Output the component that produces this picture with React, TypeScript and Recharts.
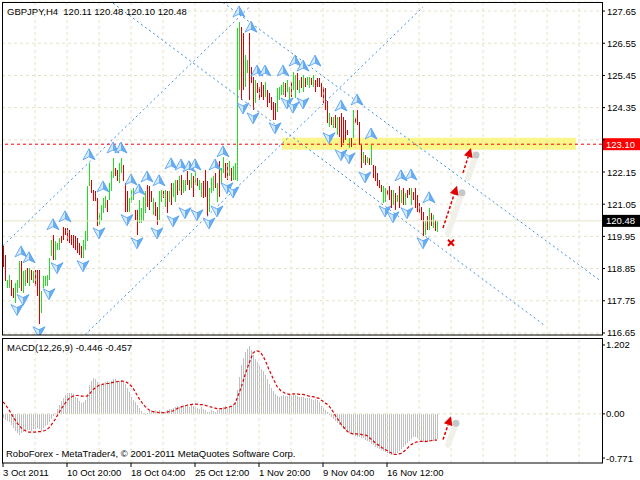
import React from 'react';
import {
    ComposedChart, Bar, Line, XAxis, YAxis, CartesianGrid,
    ReferenceLine, ReferenceArea, ReferenceDot,
} from 'recharts';

const FONT = "'Liberation Sans', Arial, sans-serif";
const GREEN = '#22dd22';
const RED = '#e00000';
const BLUE = '#3a8ee6';
const GRID = '#e6e2c6';
const SLOTS = 300;

// GBPJPY H4 bars, one per 4 hours
const highs = [
    119.61, 119.30, 118.47, 118.64, 118.47, 118.19, 118.36, 118.47, 119.10, 119.10,
    118.76, 118.81, 118.87, 118.87, 118.81, 118.76, 118.81, 118.81, 118.81, 118.07,
    118.59, 118.59, 118.64, 119.21, 119.84, 120.01, 119.78, 119.72, 119.89, 119.95,
    120.27, 120.24, 120.24, 120.18, 120.01, 120.01, 119.95, 119.89, 119.72, 119.61,
    119.84, 120.12, 121.66, 122.45, 121.88, 121.54, 121.49, 121.26, 120.75, 121.03,
    121.26, 121.32, 121.20, 121.77, 122.17, 122.62, 122.28, 122.22, 122.45, 122.62,
    122.40, 121.77, 121.49, 121.26, 121.54, 121.60, 120.86, 120.86, 121.20, 120.91,
    121.31, 121.49, 121.71, 121.66, 121.49, 121.26, 121.14, 120.97, 121.49, 121.54,
    121.49, 121.54, 121.49, 121.49, 121.77, 121.77, 121.88, 121.88, 122.00, 122.05,
    121.88, 121.88, 122.17, 121.88, 122.11, 122.00, 122.17, 121.94, 121.88, 121.77,
    121.83, 122.22, 121.83, 121.60, 121.94, 122.00, 122.11, 121.77, 122.51, 122.28,
    122.68, 122.45, 122.45, 122.51, 122.28, 122.34, 122.45, 127.07, 127.27, 127.10,
    126.90, 126.15, 125.98, 126.90, 125.74, 125.40, 125.30, 125.19, 125.06, 125.23,
    125.12, 125.23, 124.95, 124.85, 124.72, 124.54, 124.51, 125.02, 125.06, 125.12,
    125.23, 125.19, 125.30, 125.06, 125.23, 125.57, 125.47, 125.53, 125.30, 125.40,
    125.47, 125.36, 125.40, 125.40, 125.36, 125.47, 125.30, 125.36, 125.36, 125.19,
    125.06, 125.01, 124.56, 124.16, 124.04, 124.04, 124.10, 124.04, 124.04, 124.16,
    124.04, 123.93, 123.59, 123.30, 123.30, 124.27, 123.99, 124.27, 123.87, 123.08,
    122.85, 122.74, 122.68, 122.62, 123.08, 122.39, 122.34, 122.11, 121.88, 121.71,
    121.66, 121.60, 121.54, 121.66, 121.54, 121.54, 121.43, 121.37, 121.66, 121.54,
    121.60, 121.43, 121.54, 121.60, 121.60, 121.48, 121.60, 121.37, 121.09, 120.97,
    120.80, 120.46, 120.63, 120.92, 120.75, 120.69, 120.52, 120.48,
];

const lows = [
    118.89, 118.41, 118.19, 118.19, 117.90, 117.85, 117.68, 118.02, 118.19, 118.07,
    118.02, 118.24, 118.36, 118.24, 118.47, 118.36, 118.24, 117.90, 116.94, 117.33,
    118.19, 118.24, 118.24, 118.47, 119.27, 119.15, 119.15, 119.50, 119.50, 119.72,
    119.84, 120.01, 119.78, 119.72, 119.67, 119.55, 119.50, 119.38, 119.32, 119.21,
    119.21, 119.50, 119.78, 121.66, 121.43, 121.15, 121.15, 120.29, 120.35, 120.46,
    120.75, 120.92, 120.80, 121.20, 121.49, 121.94, 122.00, 121.83, 121.77, 122.11,
    121.83, 120.80, 120.80, 120.80, 121.09, 121.20, 120.52, 120.01, 120.40, 120.40,
    120.46, 120.75, 120.97, 120.86, 121.14, 120.69, 120.63, 120.35, 120.52, 121.14,
    121.26, 120.97, 120.75, 121.14, 121.03, 121.31, 121.14, 121.37, 121.49, 121.37,
    121.43, 121.49, 121.71, 121.54, 121.60, 121.31, 121.71, 121.66, 121.54, 121.31,
    121.26, 121.31, 120.63, 120.80, 121.43, 121.49, 121.60, 121.14, 121.31, 121.77,
    122.11, 121.94, 121.88, 122.00, 121.83, 121.88, 121.88, 121.85, 124.95, 124.61,
    124.95, 125.06, 125.53, 124.61, 125.19, 124.27, 124.51, 124.85, 124.61, 124.72,
    124.61, 124.72, 124.37, 124.51, 124.27, 123.93, 123.93, 124.20, 124.61, 124.78,
    124.78, 124.72, 124.89, 124.61, 124.72, 124.95, 124.68, 124.95, 124.85, 125.02,
    124.89, 125.06, 125.12, 125.02, 125.12, 125.06, 124.89, 125.06, 125.06, 124.72,
    124.51, 124.27, 123.82, 123.70, 123.76, 123.65, 123.65, 123.42, 123.36, 123.02,
    123.13, 123.25, 123.42, 122.96, 123.02, 123.30, 123.82, 123.76, 123.08, 122.28,
    122.45, 122.39, 122.45, 122.39, 122.39, 121.94, 121.83, 121.66, 121.60, 121.48,
    121.09, 121.14, 121.37, 121.20, 120.92, 121.03, 120.86, 121.14, 120.92, 121.09,
    121.03, 121.03, 121.26, 121.37, 121.03, 121.20, 120.92, 120.80, 120.75, 120.52,
    119.95, 120.00, 120.18, 120.18, 120.29, 120.23, 120.12, 120.10,
];

// 1 = bar closed up (green), 0 = closed down (red)
const bull = [
    0, 0, 1, 1, 0, 0, 1, 1, 1, 0,
    1, 1, 0, 1, 0, 1, 0, 0, 0, 1,
    1, 1, 1, 1, 1, 0, 1, 1, 1, 0,
    0, 0, 0, 0, 0, 0, 0, 0, 0, 0,
    1, 1, 1, 1, 0, 0, 0, 0, 1, 1,
    1, 1, 0, 1, 1, 1, 0, 0, 1, 1,
    0, 0, 0, 1, 1, 1, 0, 0, 1, 1,
    1, 1, 0, 0, 0, 1, 0, 0, 1, 1,
    0, 1, 0, 1, 0, 1, 1, 0, 1, 0,
    1, 1, 0, 0, 1, 0, 1, 0, 1, 1,
    0, 0, 0, 1, 1, 1, 0, 1, 0, 1,
    1, 0, 0, 1, 0, 1, 1, 1, 1, 0,
    0, 1, 1, 0, 0, 0, 1, 0, 0, 0,
    0, 1, 0, 0, 0, 0, 0, 1, 1, 1,
    1, 0, 1, 1, 0, 1, 1, 0, 1, 0,
    1, 0, 1, 1, 0, 1, 0, 0, 0, 0,
    0, 0, 0, 1, 0, 1, 0, 1, 0, 0,
    0, 0, 0, 1, 0, 1, 0, 0, 0, 0,
    1, 0, 1, 0, 1, 0, 0, 0, 0, 0,
    1, 1, 0, 0, 0, 1, 0, 1, 0, 1,
    0, 1, 0, 0, 1, 0, 0, 0, 0, 0,
    0, 1, 0, 1, 0, 1, 0, 1,
];

const macdHist = [
    -0.08, -0.10, -0.12, -0.14, -0.19, -0.24, -0.30, -0.34, -0.37, -0.33,
    -0.31, -0.30, -0.29, -0.28, -0.30, -0.27, -0.26, -0.25, -0.27, -0.30,
    -0.25, -0.22, -0.20, -0.15, -0.09, -0.04, 0.02, 0.08, 0.15, 0.22,
    0.28, 0.33, 0.36, 0.37, 0.36, 0.35, 0.30, 0.27, 0.22, 0.19,
    0.20, 0.25, 0.35, 0.50, 0.58, 0.62, 0.60, 0.56, 0.52, 0.50,
    0.52, 0.55, 0.57, 0.56, 0.58, 0.60, 0.61, 0.58, 0.57, 0.59,
    0.56, 0.52, 0.45, 0.38, 0.30, 0.25, 0.20, 0.15, 0.10, 0.05,
    0.02, -0.01, 0.02, 0.05, 0.07, 0.05, 0.06, 0.04, 0.06, 0.05,
    0.03, 0.04, 0.06, 0.08, 0.09, 0.10, 0.12, 0.13, 0.12, 0.14,
    0.15, 0.13, 0.14, 0.12, 0.15, 0.14, 0.12, 0.10, 0.09, 0.12,
    0.08, 0.06, 0.03, 0.04, 0.07, 0.05, 0.03, 0.06, 0.08, 0.10,
    0.12, 0.13, 0.11, 0.12, 0.14, 0.15, 0.20, 0.42, 0.65, 0.85,
    0.98, 1.08, 1.14, 1.18, 1.12, 1.02, 0.95, 0.90, 0.84, 0.79,
    0.74, 0.68, 0.60, 0.52, 0.45, 0.40, 0.35, 0.32, 0.30, 0.31,
    0.33, 0.32, 0.31, 0.33, 0.32, 0.34, 0.33, 0.31, 0.30, 0.29,
    0.30, 0.28, 0.27, 0.28, 0.26, 0.25, 0.26, 0.24, 0.20, 0.14,
    0.10, 0.06, 0.03, -0.01, -0.05, -0.09, -0.13, -0.16, -0.20, -0.23,
    -0.26, -0.29, -0.31, -0.33, -0.35, -0.37, -0.38, -0.40, -0.41, -0.42,
    -0.43, -0.46, -0.48, -0.50, -0.52, -0.55, -0.57, -0.59, -0.61, -0.63,
    -0.65, -0.67, -0.69, -0.70, -0.71, -0.71, -0.70, -0.68, -0.65, -0.62,
    -0.58, -0.55, -0.51, -0.47, -0.44, -0.41, -0.40, -0.42, -0.45, -0.48,
    -0.50, -0.51, -0.50, -0.49, -0.48, -0.47, -0.46, -0.446,
];

const macdSignal = [
    0.21, 0.17, 0.12, 0.07, 0.01, -0.05, -0.10, -0.16, -0.20, -0.24,
    -0.27, -0.29, -0.31, -0.32, -0.32, -0.32, -0.32, -0.31, -0.31, -0.31,
    -0.30, -0.29, -0.27, -0.24, -0.20, -0.15, -0.10, -0.04, 0.02, 0.08,
    0.13, 0.18, 0.23, 0.27, 0.29, 0.31, 0.32, 0.32, 0.32, 0.31,
    0.31, 0.31, 0.31, 0.34, 0.38, 0.42, 0.45, 0.47, 0.50, 0.51,
    0.52, 0.52, 0.53, 0.53, 0.54, 0.55, 0.56, 0.56, 0.57, 0.57,
    0.57, 0.56, 0.55, 0.52, 0.49, 0.45, 0.39, 0.33, 0.27, 0.22,
    0.17, 0.13, 0.10, 0.07, 0.05, 0.04, 0.03, 0.03, 0.02, 0.02,
    0.02, 0.02, 0.03, 0.04, 0.05, 0.05, 0.07, 0.09, 0.11, 0.12,
    0.13, 0.14, 0.15, 0.16, 0.16, 0.17, 0.17, 0.17, 0.16, 0.16,
    0.16, 0.15, 0.14, 0.13, 0.12, 0.11, 0.10, 0.09, 0.09, 0.09,
    0.09, 0.10, 0.11, 0.12, 0.13, 0.15, 0.18, 0.27, 0.36, 0.45,
    0.56, 0.68, 0.78, 0.88, 0.97, 1.06, 1.09, 1.10, 1.09, 1.06,
    1.01, 0.94, 0.86, 0.77, 0.70, 0.62, 0.55, 0.48, 0.44, 0.40,
    0.38, 0.36, 0.35, 0.34, 0.34, 0.35, 0.35, 0.35, 0.34, 0.34,
    0.34, 0.33, 0.32, 0.31, 0.30, 0.30, 0.29, 0.28, 0.27, 0.24,
    0.22, 0.19, 0.17, 0.14, 0.09, 0.04, -0.02, -0.07, -0.12, -0.18,
    -0.22, -0.26, -0.30, -0.33, -0.34, -0.35, -0.35, -0.35, -0.36, -0.36,
    -0.37, -0.37, -0.38, -0.41, -0.44, -0.47, -0.50, -0.53, -0.55, -0.58,
    -0.60, -0.62, -0.64, -0.66, -0.68, -0.70, -0.71, -0.71, -0.70, -0.69,
    -0.67, -0.64, -0.61, -0.57, -0.54, -0.52, -0.50, -0.49, -0.48, -0.48,
    -0.48, -0.48, -0.48, -0.47, -0.47, -0.46, -0.46, -0.457,
];

// fractal arrows: [bar index, price where the arrow sits]
const fractalUp = [
    [9, 119.42], [13, 119.22], [25, 120.35], [31, 120.62], [43, 122.74], [50, 121.64],
    [55, 122.97], [59, 122.97], [64, 121.88], [68, 121.54], [72, 121.98], [78, 121.85],
    [84, 122.43], [89, 122.39], [93, 122.33], [96, 122.39], [106, 122.39], [110, 122.84],
    [118, 127.62], [124, 127.10], [127, 125.60], [131, 125.60], [140, 125.60], [146, 125.94],
    [150, 125.77], [156, 125.94], [169, 124.41], [177, 124.61], [184, 123.45], [199, 122.02],
    [204, 122.05], [213, 121.27],
];
const fractalDown = [
    [7, 117.45], [10, 117.79], [18, 116.69], [23, 117.99], [27, 118.88], [40, 118.95],
    [48, 120.07], [62, 120.52], [67, 119.73], [77, 120.07], [85, 120.48], [91, 120.76],
    [97, 120.69], [103, 120.41], [107, 120.82], [112, 121.61], [115, 121.47], [120, 124.34],
    [125, 124.00], [136, 123.66], [142, 124.51], [145, 124.37], [150, 124.51], [163, 123.32],
    [169, 122.74], [173, 122.63], [181, 121.98], [191, 120.82], [195, 120.62], [202, 120.76],
    [210, 119.73],
];

// channel lines as [[index, price], [index, price]]
const channels = [
    [[0, 119.63], [123, 127.77]],
    [[41, 116.59], [210, 127.79]],
    [[110, 127.945], [299, 118.42]],
    [[55, 127.92], [271, 116.90]],
];
const forecastArrows = [
    [[220, 120.24], [227, 121.68]],
    [[230, 122.12], [234, 122.97]],
];
const macdArrow = [[220, -0.45], [224, -0.04]];
const crossMark = [224, 119.73];

const priceTicks = [127.65, 126.55, 125.45, 124.35, 123.25, 122.15, 121.05, 119.95, 118.85, 117.75, 116.65];
const macdTicks = [1.202, 0, -0.771];
const macdTickLabels = ['1.202', '0.00', '-0.771'];
const dateTicks = [0, 32, 64, 96, 128, 160, 192];
const dateLabels = ['3 Oct 2011', '10 Oct 20:00', '18 Oct 04:00', '25 Oct 12:00', '1 Nov 20:00', '9 Nov 04:00', '16 Nov 12:00'];
const gridIdx = [16, 32, 48, 64, 80, 96, 112, 128, 144, 160, 176, 192, 208, 224, 240, 256, 272, 288];

const upMap = new Map(fractalUp.map(([i, p]) => [i, p]));
const downMap = new Map(fractalDown.map(([i, p]) => [i, p]));

const rows = Array.from({ length: SLOTS }, (_, i) => ({
    i,
    rng: i < highs.length ? [lows[i], highs[i]] : null,
    bull: bull[i] === 1,
    fu: upMap.has(i) ? upMap.get(i) : null,
    fd: downMap.has(i) ? downMap.get(i) : null,
    hist: i < macdHist.length ? macdHist[i] : null,
    sig: i < macdSignal.length ? macdSignal[i] : null,
}));

const crispRect = (p: any, fill: string) => {
    const x = Math.round(p.x + 0.01);
    const top = Math.round(Math.min(p.y, p.y + p.height));
    const bot = Math.round(Math.max(p.y, p.y + p.height));
    return <rect x={x} y={top} width={1} height={Math.max(1, bot - top)} fill={fill} />;
};

const PriceBar = (p: any) => {
    if (!p.payload || !p.payload.rng) return null;
    return crispRect(p, p.payload.bull ? GREEN : RED);
};

const HistBar = (p: any) => {
    if (!p.payload || p.payload.hist == null) return null;
    return crispRect(p, '#c0c0c0');
};

const UpArrow = (p: any) => {
    if (p.value == null || p.cx == null || p.cy == null) return <g key={p.index} />;
    return (
        <g key={p.index} transform={`translate(${p.cx},${p.cy})`}>
            <path d="M0,-6 L-6,5 L0,2 Z" fill="#d4e9fd" />
            <path d="M0,-6 L6,5 L0,2 Z" fill="#6aaef2" />
            <path d="M0,-6 L-6,5 L0,2 L6,5 Z" fill="none" stroke="#4b9cef" strokeWidth={0.8} />
        </g>
    );
};

const DownArrow = (p: any) => {
    if (p.value == null || p.cx == null || p.cy == null) return <g key={p.index} />;
    return (
        <g key={p.index} transform={`translate(${p.cx},${p.cy})`}>
            <path d="M0,6 L-6,-5 L0,-2 Z" fill="#d4e9fd" />
            <path d="M0,6 L6,-5 L0,-2 Z" fill="#6aaef2" />
            <path d="M0,6 L-6,-5 L0,-2 L6,-5 Z" fill="none" stroke="#4b9cef" strokeWidth={0.8} />
        </g>
    );
};

const ArrowShape = (p: any) => {
    const { x1, y1, x2, y2 } = p;
    const ang = Math.atan2(y2 - y1, x2 - x1);
    const bx = x2 - 9 * Math.cos(ang);
    const by = y2 - 9 * Math.sin(ang);
    const nx = -Math.sin(ang) * 4.5;
    const ny = Math.cos(ang) * 4.5;
    return (
        <g>
            <line x1={x1 + 5} y1={y1 + 5} x2={x2 + 5} y2={y2 + 7} stroke="#f1f1ea" strokeWidth={6} strokeLinecap="round" />
            <circle cx={x2 + 5} cy={y2 + 7} r={3.5} fill="#b8bebe" opacity={0.8} />
            <line x1={x1} y1={y1} x2={bx} y2={by} stroke={RED} strokeWidth={1.5} strokeDasharray="3 2" />
            <polygon points={`${x2},${y2} ${bx + nx},${by + ny} ${bx - nx},${by - ny}`} fill={RED} />
        </g>
    );
};

const Cross = (p: any) => (
    <g stroke={RED} strokeWidth={2}>
        <line x1={p.cx - 3} y1={p.cy - 3} x2={p.cx + 3} y2={p.cy + 3} />
        <line x1={p.cx - 3} y1={p.cy + 3} x2={p.cx + 3} y2={p.cy - 3} />
    </g>
);

const PriceTick = ({ x, y, payload }: any) => (
    <g>
        <line x1={x} y1={y} x2={x + 3} y2={y} stroke="#000" />
        {payload.value !== 123.25 && (
            <text x={x + 5} y={y + 3.5} fontSize={9.5} fontFamily={FONT} fill="#000">
                {payload.value.toFixed(2)}
            </text>
        )}
    </g>
);

const MacdTick = ({ x, y, payload }: any) => (
    <g>
        <line x1={x} y1={y} x2={x + 3} y2={y} stroke="#000" />
        <text x={x + 4} y={y + 3.5} fontSize={9.5} fontFamily={FONT} fill="#000">
            {macdTickLabels[macdTicks.indexOf(payload.value)]}
        </text>
    </g>
);

const DateTick = ({ x, y, payload }: any) => (
    <g>
        <line x1={x} y1={y} x2={x} y2={y + 4} stroke="#000" />
        <text x={x} y={y + 13} fontSize={9.5} fontFamily={FONT} fill="#000">
            {dateLabels[dateTicks.indexOf(payload.value)]}
        </text>
    </g>
);

const tag = (text: string, bg: string) => (props: any) => {
    const vb = props.viewBox || {};
    const x = vb.x + vb.width;
    const y = vb.y;
    return (
        <g>
            <rect x={x} y={y - 6} width={38} height={12} fill={bg} />
            <text x={x + 4} y={y + 3.5} fontSize={9.5} fontFamily={FONT} fill="#fff">{text}</text>
        </g>
    );
};

export default function App() {
    return (
        <div style={{ position: 'absolute', left: 0, top: 0, width: 640, height: 480, background: '#fff', overflow: 'hidden' }}>
            <div style={{ position: 'absolute', left: 0, top: 0 }}>
                <ComposedChart width={640} height={345} data={rows} margin={{ top: 2, right: 0, left: 2, bottom: 10 }}>
                    <CartesianGrid vertical={false} stroke={GRID} strokeDasharray="3 3" />
                    <XAxis dataKey="i" hide />
                    <YAxis
                        orientation="right" width={38} type="number" domain={[116.58, 127.96]}
                        allowDataOverflow ticks={priceTicks} interval={0} tick={PriceTick}
                        tickLine={false} axisLine={false} tickSize={0} tickMargin={0}
                    />
                    {gridIdx.map(k => (
                        <ReferenceLine key={`g${k}`} x={k} stroke={GRID} strokeDasharray="3 3" />
                    ))}
                    <ReferenceArea x1={140} x2={286} y1={122.91} y2={123.32} fill="#faf68a" fillOpacity={1} stroke="none" />
                    <ReferenceLine y={120.48} stroke="#e8e5cc" label={{ content: tag('120.48', '#000') }} />
                    {channels.map((s, k) => (
                        <ReferenceLine
                            key={`c${k}`}
                            segment={[{ x: s[0][0], y: s[0][1] }, { x: s[1][0], y: s[1][1] }]}
                            stroke={BLUE} strokeDasharray="2 3" ifOverflow="hidden"
                        />
                    ))}
                    <Bar dataKey="rng" barSize={1} shape={PriceBar} isAnimationActive={false} />
                    <ReferenceLine y={123.10} stroke="#ff0000" strokeDasharray="3 3" label={{ content: tag('123.10', '#ff0000') }} />
                    <Line dataKey="fu" stroke="none" dot={UpArrow} activeDot={false} isAnimationActive={false} />
                    <Line dataKey="fd" stroke="none" dot={DownArrow} activeDot={false} isAnimationActive={false} />
                    {forecastArrows.map((s, k) => (
                        <ReferenceLine
                            key={`a${k}`}
                            segment={[{ x: s[0][0], y: s[0][1] }, { x: s[1][0], y: s[1][1] }]}
                            shape={ArrowShape}
                        />
                    ))}
                    <ReferenceDot x={crossMark[0]} y={crossMark[1]} shape={Cross} />
                </ComposedChart>
            </div>
            <div style={{ position: 'absolute', left: 0, top: 338 }}>
                <ComposedChart width={640} height={142} data={rows} margin={{ top: 0, right: 0, left: 2, bottom: 0 }}>
                    <XAxis
                        dataKey="i" ticks={dateTicks} interval={0} tick={DateTick}
                        tickLine={false} axisLine={false} tickSize={0} tickMargin={0} height={17}
                    />
                    <YAxis
                        orientation="right" width={38} type="number" domain={[-0.858, 1.324]}
                        allowDataOverflow ticks={macdTicks} interval={0} tick={MacdTick}
                        tickLine={false} axisLine={false} tickSize={0} tickMargin={0}
                    />
                    {gridIdx.map(k => (
                        <ReferenceLine key={`mg${k}`} x={k} stroke={GRID} strokeDasharray="3 3" />
                    ))}
                    <ReferenceLine y={0} stroke={GRID} strokeDasharray="3 3" />
                    <Bar dataKey="hist" barSize={1} shape={HistBar} isAnimationActive={false} />
                    <Line dataKey="sig" stroke={RED} strokeWidth={1.2} strokeDasharray="3 2" dot={false} activeDot={false} isAnimationActive={false} />
                    <ReferenceLine
                        segment={[{ x: macdArrow[0][0], y: macdArrow[0][1] }, { x: macdArrow[1][0], y: macdArrow[1][1] }]}
                        shape={ArrowShape}
                    />
                </ComposedChart>
            </div>
            <svg width={640} height={480} style={{ position: 'absolute', left: 0, top: 0, pointerEvents: 'none' }}>
                <rect x={2.5} y={2.5} width={600} height={332.5} fill="none" stroke="#000" />
                <rect x={2.5} y={338.5} width={600} height={124.5} fill="none" stroke="#000" />
                <text x={7} y={15} fontSize={9.5} fontFamily={FONT} fill="#000" xmlSpace="preserve">GBPJPY,H4  120.11 120.48 120.10 120.48</text>
                <text x={7} y={351} fontSize={9.5} fontFamily={FONT} fill="#000">MACD(12,26,9) -0.446 -0.457</text>
                <text x={6} y={457} fontSize={9.5} fontFamily={FONT} fill="#000">RoboForex - MetaTrader4, © 2001-2011 MetaQuotes Software Corp.</text>
            </svg>
        </div>
    );
}
